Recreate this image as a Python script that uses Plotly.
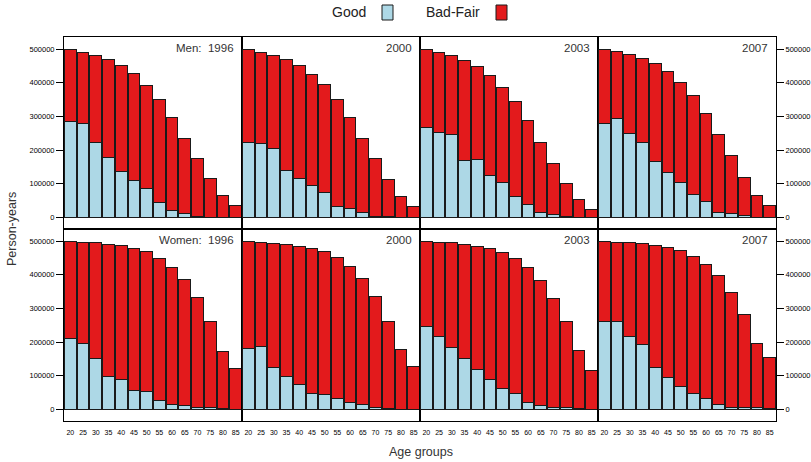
import plotly.graph_objects as go
from plotly.subplots import make_subplots

ages = [20, 25, 30, 35, 40, 45, 50, 55, 60, 65, 70, 75, 80, 85]
years = ["1996", "2000", "2003", "2007"]
y_ticks = [0, 100000, 200000, 300000, 400000, 500000]

# Men: total person-years and "Good" person-years per age group
men_total_1996 = [498000, 491000, 481000, 469000, 451000, 429000, 393000, 349000, 298000, 236000, 176000, 116000, 64000, 35000]
men_good_1996 = [285000, 279000, 223000, 178000, 136000, 110000, 86000, 44000, 20000, 12000, 4000, 1000, 0, 0]
men_total_2000 = [498000, 491000, 481000, 468000, 451000, 426000, 396000, 351000, 297000, 235000, 175000, 112000, 63000, 34000]
men_good_2000 = [223000, 220000, 204000, 139000, 115000, 95000, 74000, 34000, 28000, 14000, 4000, 2000, 0, 0]
men_total_2003 = [498000, 491000, 480000, 465000, 448000, 423000, 387000, 344000, 287000, 223000, 161000, 101000, 55000, 25000]
men_good_2003 = [267000, 252000, 247000, 169000, 171000, 125000, 103000, 63000, 38000, 15000, 9000, 2000, 0, 0]
men_total_2007 = [500000, 494000, 484000, 471000, 457000, 434000, 402000, 362000, 309000, 247000, 184000, 120000, 66000, 37000]
men_good_2007 = [280000, 295000, 251000, 223000, 166000, 133000, 104000, 69000, 48000, 15000, 12000, 6000, 0, 0]

# Women
women_total_1996 = [500000, 496000, 496000, 491000, 487000, 479000, 468000, 448000, 421000, 387000, 334000, 262000, 172000, 123000]
women_good_1996 = [212000, 195000, 152000, 99000, 88000, 56000, 53000, 27000, 15000, 13000, 5000, 5000, 2000, 0]
women_total_2000 = [500000, 496000, 494000, 491000, 485000, 479000, 468000, 450000, 424000, 388000, 335000, 262000, 178000, 129000]
women_good_2000 = [180000, 188000, 125000, 99000, 73000, 47000, 44000, 34000, 22000, 15000, 7000, 4000, 0, 0]
women_total_2003 = [500000, 496000, 496000, 490000, 485000, 479000, 467000, 448000, 421000, 384000, 331000, 261000, 174000, 117000]
women_good_2003 = [248000, 218000, 183000, 151000, 118000, 88000, 62000, 47000, 22000, 13000, 7000, 7000, 2000, 0]
women_total_2007 = [500000, 496000, 496000, 493000, 488000, 482000, 471000, 453000, 430000, 397000, 348000, 282000, 195000, 155000]
women_good_2007 = [261000, 261000, 218000, 192000, 125000, 96000, 67000, 49000, 33000, 15000, 5000, 5000, 5000, 3000]

panels = [
    ("Men", [men_total_1996, men_total_2000, men_total_2003, men_total_2007],
     [men_good_1996, men_good_2000, men_good_2003, men_good_2007]),
    ("Women", [women_total_1996, women_total_2000, women_total_2003, women_total_2007],
     [women_good_1996, women_good_2000, women_good_2003, women_good_2007]),
]

GOOD_COL = "#ADD8E6"
BAD_COL = "#E31A1C"
EDGE = "#1a1a1a"

W, H = 811, 462
L, R, T, B = 64, 35, 37, 41
PW, PH = W - L - R, H - T - B

fig = make_subplots(rows=2, cols=4, horizontal_spacing=0, vertical_spacing=0)

for r, (sex, totals, goods) in enumerate(panels, start=1):
    for c in range(4):
        good = goods[c]
        bad = [t - g for t, g in zip(totals[c], good)]
        fig.add_trace(go.Bar(x=ages, y=good, name="Good", marker=dict(color=GOOD_COL, line=dict(color=EDGE, width=1)),
                             showlegend=False), row=r, col=c + 1)
        fig.add_trace(go.Bar(x=ages, y=bad, name="Bad-Fair", marker=dict(color=BAD_COL, line=dict(color=EDGE, width=1)),
                             showlegend=False), row=r, col=c + 1)
        fig.update_xaxes(range=[17.5, 87.5], tickvals=ages, ticktext=[str(a) for a in ages],
                         showticklabels=(r == 2), ticks="outside" if r == 2 else "", ticklen=5, tickcolor="rgba(0,0,0,0)",
                         tickfont=dict(size=7, color="#000000", family="Liberation Sans"),
                         showline=True, mirror=True, linecolor="#000", linewidth=1,
                         showgrid=False, zeroline=False, row=r, col=c + 1)
        yopts = dict(range=[-34000, 536000], tickvals=y_ticks, ticktext=[str(v) for v in y_ticks],
                     showline=True, mirror=True, linecolor="#000", linewidth=1,
                     showgrid=False, zeroline=False,
                     tickfont=dict(size=7.5, color="#000000", family="Liberation Sans"))
        if c == 0:
            yopts.update(showticklabels=True, ticks="outside", ticklen=7, tickcolor="#000", side="left")
        elif c == 3:
            yopts.update(showticklabels=True, ticks="outside", ticklen=7, tickcolor="#000", side="right")
        else:
            yopts.update(showticklabels=False, ticks="")
        fig.update_yaxes(row=r, col=c + 1, **yopts)

        # strip label, top-right inside the panel
        label = (sex + ":\u00a0\u00a0" + years[c]) if c == 0 else years[c]
        xr = (PW * (c + 1) / 4 - 6) / PW
        ypx = 48 if r == 1 else 240
        fig.add_annotation(x=xr, y=(H - B - ypx) / PH, xref="paper", yref="paper", text=label,
                           showarrow=False, xanchor="right", yanchor="middle",
                           font=dict(size=11.5, color="#333", family="Liberation Sans"))

def px_x(px):
    return (px - L) / PW

def px_y(py):
    return (H - B - py) / PH

# legend
fig.add_annotation(x=px_x(368), y=px_y(12), xref="paper", yref="paper", text="Good", showarrow=False,
                   xanchor="right", yanchor="middle", font=dict(size=14, color="#222", family="Liberation Sans"))
fig.add_shape(type="rect", xref="paper", yref="paper", x0=px_x(382), x1=px_x(393), y0=px_y(20), y1=px_y(5),
              fillcolor=GOOD_COL, line=dict(color=EDGE, width=1))
fig.add_annotation(x=px_x(482), y=px_y(12), xref="paper", yref="paper", text="Bad-Fair", showarrow=False,
                   xanchor="right", yanchor="middle", font=dict(size=14, color="#222", family="Liberation Sans"))
fig.add_shape(type="rect", xref="paper", yref="paper", x0=px_x(496), x1=px_x(507), y0=px_y(20), y1=px_y(5),
              fillcolor=BAD_COL, line=dict(color=EDGE, width=1))

# axis titles
fig.add_annotation(x=px_x(421), y=px_y(452), xref="paper", yref="paper", text="Age groups", showarrow=False,
                   xanchor="center", yanchor="middle", font=dict(size=12.5, color="#333", family="Liberation Sans"))
fig.add_annotation(x=px_x(12), y=px_y(229), xref="paper", yref="paper", text="Person-years", showarrow=False,
                   textangle=-90, xanchor="center", yanchor="middle", font=dict(size=12.5, color="#333", family="Liberation Sans"))

fig.update_layout(width=W, height=H, margin=dict(l=L, r=R, t=T, b=B, autoexpand=False),
                  barmode="stack", bargap=0.07, plot_bgcolor="white", paper_bgcolor="white",
                  showlegend=False, font=dict(family="Liberation Sans", color="#000000"))

fig.write_html("out.html", config={"displayModeBar": False},
               post_script="document.body.style.margin='0';document.body.style.overflow='hidden';")
